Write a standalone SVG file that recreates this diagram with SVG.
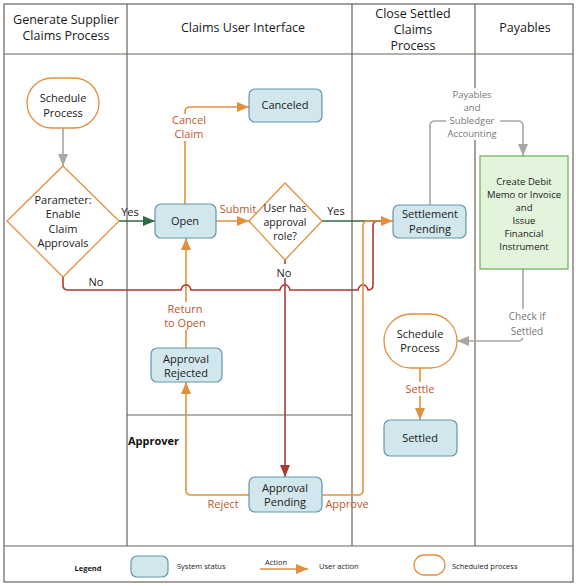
<svg xmlns="http://www.w3.org/2000/svg" width="576" height="586" viewBox="0 0 576 586">
<style>
text{font-family:"Open Sans","Noto Sans","Liberation Sans",sans-serif;}
.hd{font-size:12.5px;fill:#1a1a1a;text-anchor:middle;}
.nt{font-size:11px;fill:#1a1a1a;text-anchor:middle;}
.st{fill:#d2e6ed;stroke:#6497a9;stroke-width:1.2;}
.sc{fill:#ffffff;stroke:#e0913f;stroke-width:1.3;}
.dm{fill:#ffffff;stroke:#e0913f;stroke-width:1.3;}
.ln{stroke:#6a625b;stroke-width:1.2;fill:none;}
.lbl{font-size:11px;fill:#c0582a;text-anchor:middle;}
.glbl{font-size:10px;fill:#777777;text-anchor:middle;}
.kl{font-size:11px;fill:#1a1a1a;text-anchor:middle;}
.dt{font-size:9.5px;fill:#1a1a1a;text-anchor:middle;}
.or{stroke:#e0913f;stroke-width:1.6;fill:none;}
.rd{stroke:#b03a2e;stroke-width:1.6;fill:none;}
.gn{stroke:#2f6b42;stroke-width:1.6;fill:none;}
.gy{stroke:#aaa6a1;stroke-width:1.6;fill:none;}
.lg{font-size:7.5px;fill:#1a1a1a;}
</style>
<defs>
<marker id="aO" markerUnits="userSpaceOnUse" markerWidth="12" markerHeight="10" refX="12" refY="5" orient="auto"><path d="M0,0 L12,5 L0,10 Z" fill="#e0913f"/></marker>
<marker id="aR" markerUnits="userSpaceOnUse" markerWidth="12" markerHeight="10" refX="12" refY="5" orient="auto"><path d="M0,0 L12,5 L0,10 Z" fill="#b03a2e"/></marker>
<marker id="aG" markerUnits="userSpaceOnUse" markerWidth="12" markerHeight="10" refX="12" refY="5" orient="auto"><path d="M0,0 L12,5 L0,10 Z" fill="#2f6b42"/></marker>
<marker id="aY" markerUnits="userSpaceOnUse" markerWidth="12" markerHeight="10" refX="12" refY="5" orient="auto"><path d="M0,0 L12,5 L0,10 Z" fill="#aaa6a1"/></marker>
</defs>
<rect width="576" height="586" fill="#ffffff"/>
<g id="lanes">
<rect class="ln" x="4" y="4" width="569" height="578" stroke-width="1.6"/>
<line class="ln" x1="4" y1="54" x2="573" y2="54"/>
<line class="ln" x1="4" y1="546" x2="573" y2="546"/>
<line class="ln" x1="127" y1="4" x2="127" y2="546"/>
<line class="ln" x1="352" y1="4" x2="352" y2="546"/>
<line class="ln" x1="475" y1="4" x2="475" y2="546"/>
<line class="ln" x1="127" y1="415" x2="352" y2="415"/>
<text class="hd" x="66" y="24">Generate Supplier</text>
<text class="hd" x="66" y="40">Claims Process</text>
<text class="hd" x="243" y="32">Claims User Interface</text>
<text class="hd" x="413" y="18">Close Settled</text>
<text class="hd" x="413" y="34">Claims</text>
<text class="hd" x="413" y="50">Process</text>
<text class="hd" x="525" y="32">Payables</text>
<text x="128" y="445" style="font-size:11px;font-weight:bold;fill:#111">Approver</text>
</g>
<g id="connectors">
<path class="gy" d="M63,128 V166" marker-end="url(#aY)"/>
<path class="gn" d="M119,221 H155" marker-end="url(#aG)"/>
<path class="or" d="M185,204 V112 Q185,107 190,107 H249" marker-end="url(#aO)"/>
<path class="or" d="M216,221 H249" marker-end="url(#aO)"/>
<path class="gn" d="M322,221 H382"/>
<path class="rd" d="M285,260 V477" marker-end="url(#aR)"/>
<path class="or" d="M249,495 H191 Q186,495 186,490 V382" marker-end="url(#aO)"/>
<path class="or" d="M186,348 V238" marker-end="url(#aO)"/>
<path class="rd" d="M63,277 V285 Q63,290 68,290 H181 Q182,285 186,285 Q190,285 191,290 H280 Q281,285 285,285 Q289,285 290,290 H358 Q359,285 363,285 Q367,285 368,290 Q373,290 373,285 V226 Q373,221 378,221 H384"/>
<path class="or" d="M322,495 H358 Q363,495 363,490 V226 Q363,221 368,221 H393" marker-end="url(#aO)"/>
<path class="gy" d="M430,205 V126 Q430,121 435,121 H518 Q523,121 523,126 V156" marker-end="url(#aY)"/>
<path class="gy" d="M523,269 V336 Q523,341 518,341 H457" marker-end="url(#aY)"/>
<path class="or" d="M420,368 V420" marker-end="url(#aO)"/>
<rect x="168" y="114" width="42" height="27" fill="#fff"/>
<text class="lbl" x="189" y="124">Cancel</text>
<text class="lbl" x="189" y="138">Claim</text>
<text class="lbl" x="238" y="213">Submit</text>
<text class="kl" x="130" y="216">Yes</text>
<text class="kl" x="336" y="215">Yes</text>
<rect x="274" y="264" width="20" height="14" fill="#fff"/>
<text class="kl" x="284" y="277">No</text>
<rect x="84" y="276" width="24" height="13" fill="#fff"/>
<text class="kl" x="96" y="286">No</text>
<rect x="163" y="302" width="45" height="28" fill="#fff"/>
<text class="lbl" x="185" y="313">Return</text>
<text class="lbl" x="185" y="327">to Open</text>
<text class="lbl" x="223" y="508">Reject</text>
<text class="lbl" x="347" y="508">Approve</text>
<rect x="446" y="88" width="54" height="52" fill="#fff"/>
<text class="glbl" x="472" y="98" style="font-size:9.5px">Payables</text>
<text class="glbl" x="472" y="111" style="font-size:9.5px">and</text>
<text class="glbl" x="472" y="124" style="font-size:9.5px">Subledger</text>
<text class="glbl" x="472" y="137" style="font-size:9.5px">Accounting</text>
<rect x="506" y="309" width="42" height="29" fill="#fff"/>
<text class="glbl" x="527" y="320">Check if</text>
<text class="glbl" x="527" y="335">Settled</text>
<rect x="404" y="382" width="32" height="14" fill="#fff"/>
<text class="lbl" x="420" y="393">Settle</text>
</g>
<g id="schedule1">
<rect class="sc" x="27" y="78" width="72" height="50" rx="25"/>
<text class="nt" x="63" y="102">Schedule</text>
<text class="nt" x="63" y="117">Process</text>
</g>
<g id="param">
<path class="dm" d="M63,166 L119,221 L63,277 L7,221 Z"/>
<text class="nt" x="63" y="204">Parameter:</text>
<text class="nt" x="63" y="218">Enable</text>
<text class="nt" x="63" y="233">Claim</text>
<text class="nt" x="63" y="247">Approvals</text>
</g>
<g id="open">
<rect class="st" x="155" y="204" width="61" height="34" rx="6"/>
<text class="nt" x="185" y="225">Open</text>
</g>
<g id="canceled">
<rect class="st" x="249" y="89" width="73" height="33" rx="6"/>
<text class="nt" x="285" y="109">Canceled</text>
</g>
<g id="role">
<path class="dm" d="M285,183 L322,221 L285,260 L249,221 Z"/>
<text class="nt" x="285" y="212" style="font-size:10.5px">User has</text>
<text class="nt" x="285" y="226" style="font-size:10.5px">approval</text>
<text class="nt" x="285" y="240" style="font-size:10.5px">role?</text>
</g>
<g id="settlement">
<rect class="st" x="393" y="205" width="73" height="33" rx="6"/>
<text class="nt" x="430" y="218">Settlement</text>
<text class="nt" x="430" y="233">Pending</text>
</g>
<g id="rejected">
<rect class="st" x="151" y="348" width="71" height="34" rx="6"/>
<text class="nt" x="186" y="363">Approval</text>
<text class="nt" x="186" y="377">Rejected</text>
</g>
<g id="pending">
<rect class="st" x="249" y="477" width="73" height="35" rx="6"/>
<text class="nt" x="285" y="492">Approval</text>
<text class="nt" x="285" y="506">Pending</text>
</g>
<g id="debit">
<rect x="480" y="156" width="88" height="113" fill="#e2f4dc" stroke="#6cad5e" stroke-width="1.2"/>
<text class="dt" x="524" y="185">Create Debit</text>
<text class="dt" x="524" y="198">Memo or Invoice</text>
<text class="dt" x="524" y="211">and</text>
<text class="dt" x="524" y="224">Issue</text>
<text class="dt" x="524" y="237">Financial</text>
<text class="dt" x="524" y="250">Instrument</text>
</g>
<g id="schedule2">
<rect class="sc" x="384" y="314" width="73" height="54" rx="27"/>
<text class="nt" x="420" y="338">Schedule</text>
<text class="nt" x="420" y="352">Process</text>
</g>
<g id="settled">
<rect class="st" x="384" y="420" width="73" height="36" rx="6"/>
<text class="nt" x="420" y="442">Settled</text>
</g>
<g id="legend">
<text class="lg" x="88" y="571" text-anchor="middle" font-weight="bold">Legend</text>
<rect class="st" x="131" y="556" width="37" height="21" rx="6"/>
<text class="lg" x="177" y="569">System status</text>
<text class="lg" x="276" y="565" text-anchor="middle" fill="#c0582a">Action</text>
<path class="or" d="M260,569 H308" marker-end="url(#aO)"/>
<text class="lg" x="319" y="569">User action</text>
<rect class="sc" x="414" y="555" width="31" height="20" rx="10"/>
<text class="lg" x="452" y="569">Scheduled process</text>
</g>
</svg>
